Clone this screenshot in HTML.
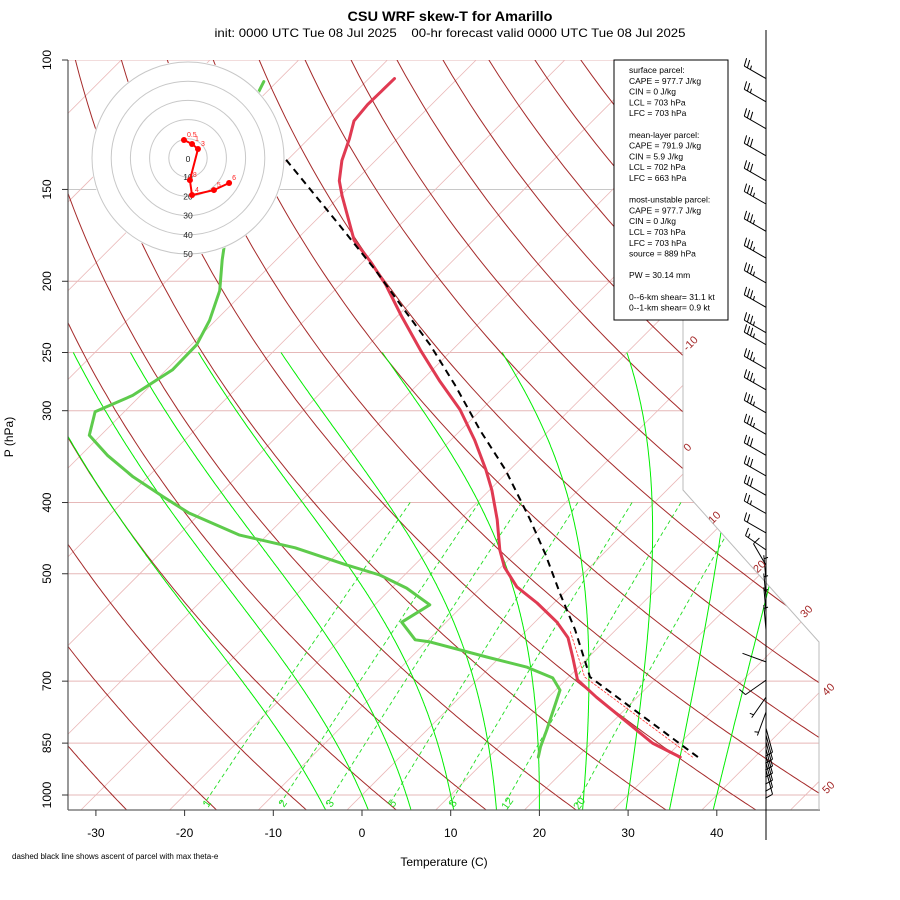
<!DOCTYPE html>
<html><head><meta charset="utf-8"><style>
body{margin:0;background:#fff}
svg{display:block;font-family:"Liberation Sans",sans-serif}
</style></head><body>
<svg id="chart" width="900" height="900" viewBox="0 0 900 900" xmlns="http://www.w3.org/2000/svg">
<defs><clipPath id="plotclip"><polygon points="68,60 683,60 683,490 819,642 819,810 68,810"/></clipPath></defs>
<rect width="900" height="900" fill="#fff"/>
<text x="450" y="21" text-anchor="middle" font-size="14" font-weight="bold" textLength="205" lengthAdjust="spacingAndGlyphs">CSU WRF skew-T for Amarillo</text>
<text x="450" y="37" text-anchor="middle" font-size="12" textLength="471" lengthAdjust="spacingAndGlyphs" style="white-space:pre">init: 0000 UTC Tue 08 Jul 2025    00-hr forecast valid 0000 UTC Tue 08 Jul 2025</text>
<g id="grid" clip-path="url(#plotclip)"></g>
<g id="profiles" clip-path="url(#plotclip)"></g>
<g id="axes"></g>
<g id="barbs"></g>
<g id="hodo"></g>
<g fill="#a52a2a" font-size="11">
<text transform="translate(693,346) rotate(-45)" text-anchor="middle">-10</text>
<text transform="translate(690,450) rotate(-45)" text-anchor="middle">0</text>
<text transform="translate(717,520) rotate(-45)" text-anchor="middle">10</text>
<text transform="translate(762,569) rotate(-45)" text-anchor="middle">20</text>
<text transform="translate(809,614) rotate(-45)" text-anchor="middle">30</text>
<text transform="translate(831,692) rotate(-45)" text-anchor="middle">40</text>
<text transform="translate(831,790) rotate(-45)" text-anchor="middle">50</text>
</g>
<g>
<rect x="614" y="60" width="114" height="260" fill="#fff" stroke="#000" stroke-width="1"/>
<g id="infotext" font-size="8.5" fill="#000"></g>
</g>
<text transform="translate(13,437) rotate(-90)" text-anchor="middle" font-size="12">P (hPa)</text>
<text x="444" y="866" text-anchor="middle" font-size="12">Temperature (C)</text>
<text x="12" y="859" font-size="8">dashed black line shows ascent of parcel with max theta-e</text>
</svg>
<script>
const tempP=[888,850,736,697,649,611,582,548,521,490,464,422,385,361,329,299,273,248,222,202,188,176,153,146,137,128,121,115,106];
const tempT=[31.6,26.9,15.4,11.3,8.2,5.5,2.5,-1.9,-6.0,-9.6,-12.1,-15.8,-19.7,-22.7,-27.3,-32.4,-38.0,-43.6,-49.8,-54.9,-59.2,-63.4,-69.8,-71.8,-73.8,-75.4,-76.9,-77.2,-77.1];
const dewP=[888,860,816,720,693,670,649,619,615,582,551,523,502,486,461,443,413,393,369,345,324,301,286,264,244,226,206,187,146,117,107];
const dewT=[15.6,14.7,13.5,10.5,8.3,4.2,-1.5,-9.6,-11.5,-15.0,-13.8,-18.3,-22.8,-27.8,-35.4,-43.1,-51.4,-56.0,-61.7,-67.0,-71.3,-73.3,-70.9,-69.3,-69.4,-70.7,-72.9,-76.1,-83.7,-89.9,-91.5];
const parcelP=[888,691,596,534,471,422,361,319,277,244,215,193,168,150,136];
const parcelT=[33.6,12.4,5.4,-0.2,-6.4,-12.1,-20.5,-27.8,-35.7,-43.1,-51.0,-57.7,-66.7,-74.1,-80.5];
const barbP=[106,114,124,135,146,157,171,186,201,217,235,244,263,281,302,323,345,368,391,414,440,464,487,510,540,564,596,659,698,736,771,811,829,847,866,885,905,925];
const barbDir=[300,300,300,300,300,300,300,300,300,300,300,300,300,300,300,300,300,300,300,300,300,305,330,355,355,355,355,290,235,215,200,165,165,165,165,165,165,165];
const barbSpd=[25,25,30,30,30,35,35,35,35,35,35,35,35,35,35,35,30,30,30,25,20,15,10,5,5,5,5,2,10,5,5,10,10,10,10,10,10,10];
const hodoU=[-2.1,2.1,5.2,1.0,2.1,13.5,21.4];
const hodoV=[9.4,7.3,4.7,-11.5,-19.3,-16.7,-13.0];
const hodoLbl=["0.5","1","3","8","4","5","6"];
const pTicks=[100,150,200,250,300,400,500,700,850,1000];
const tTicks=[-30,-20,-10,0,10,20,30,40];
const mixRatios=[1,2,3,5,8,12,20];
const info=["surface parcel:","CAPE = 977.7 J/kg","CIN = 0 J/kg","LCL = 703 hPa","LFC = 703 hPa","","mean-layer parcel:","CAPE = 791.9 J/kg","CIN = 5.9 J/kg","LCL = 702 hPa","LFC = 663 hPa","","most-unstable parcel:","CAPE = 977.7 J/kg","CIN = 0 J/kg","LCL = 703 hPa","LFC = 703 hPa","source = 889 hPa","","PW =  30.14 mm","","0--6-km shear= 31.1 kt","0--1-km shear= 0.9 kt"];

const NS="http://www.w3.org/2000/svg";
function yP(p){return 795-319.2*Math.log(1000/p);}
function xT(T,p){return 362+8.87*T+319.2*Math.log(1000/p);}
function mk(parent,tag,attrs){const e=document.createElementNS(NS,tag);for(const k in attrs)e.setAttribute(k,attrs[k]);parent.appendChild(e);return e;}
function pathFrom(pts){return pts.map((q,i)=>(i?'L':'M')+q[0].toFixed(1)+','+q[1].toFixed(1)).join('');}
const grid=document.getElementById('grid');
const prof=document.getElementById('profiles');
const axes=document.getElementById('axes');

for(const p of pTicks){const l=mk(grid,'line',{x1:68,x2:820,y1:yP(p),y2:yP(p),stroke:p==150?'#c8c8c8':'#e6b8b8','stroke-width':1});

}
for(let T=-120;T<=60;T+=10){const l=mk(grid,'line',{x1:xT(T,1060),y1:yP(1060),x2:xT(T,95),y2:yP(95),stroke:'#eab8b8','stroke-width':0.8});

}
for(let th=175;th<=505;th+=10){const pts=[];for(let p=95;p<=1060;p+=5){pts.push([xT(th*Math.pow(p/1000,0.2857)-273.15,p),yP(p)]);}
const e=mk(grid,'path',{d:pathFrom(pts),fill:'none',stroke:'#a52a2a','stroke-width':1});

}
function es(Tc){return 6.112*Math.exp(17.67*Tc/(Tc+243.5));}
function dTdp(TK,p){const Tc=TK-273.15;const e=es(Tc);const rs=0.622*e/(p-e);const Rd=287,cp=1004,Lv=2.5e6;
return (Rd*TK+Lv*rs)/(p*(cp+Lv*Lv*rs*0.622/(Rd*TK*TK)));}
for(let tw=-5;tw<=40;tw+=5){let T=tw+273.15,pts=[];let p=1000;
let Td=T;const down=[];for(let q=1000;q<1050;q+=2){Td+=dTdp(Td,q)*2;down.push([xT(Td-273.15,q+2),yP(q+2)]);}
for(p=1000;p>=250;p-=2){pts.push([xT(T-273.15,p),yP(p)]);T-=dTdp(T,p)*2;}
pts.reverse();const all=pts.concat(down);
const e=mk(grid,'path',{d:pathFrom(all),fill:'none',stroke:'#00ee00','stroke-width':1});

}
function tdFromW(w,p){const e=w*p/(622+w);const l=Math.log(e/6.112);return 243.5*l/(17.67-l);}
for(const w of mixRatios){const pts=[];for(let p=400;p<=1030;p+=10)pts.push([xT(tdFromW(w,p),p),yP(p)]);
const e=mk(grid,'path',{d:pathFrom(pts),fill:'none',stroke:'#22dd22','stroke-width':0.9,'stroke-dasharray':'4,3'});


const lp=1030,lx=xT(tdFromW(w,lp),lp)+6,ly=yP(lp)+1;
const t=mk(grid,'text',{x:lx,y:ly,fill:'#22dd22','font-size':11,'text-anchor':'middle',transform:`rotate(-55 ${lx} ${ly})`});
t.textContent=w;

}

function line(P,T,attrs,name){const pts=P.map((p,i)=>[xT(T[i],p),yP(p)]);const e=mk(prof,'path',Object.assign({d:pathFrom(pts),fill:'none','stroke-linejoin':'round','stroke-linecap':'round'},attrs));

return e;}
line(dewP,dewT,{stroke:'#5ecb4c','stroke-width':3},'dewpoint-line');
line(tempP,tempT,{stroke:'#e03a52','stroke-width':3},'temperature-line');
line(parcelP.slice(0,3),parcelT.slice(0,3).map(t=>t-0.6),{stroke:'#ff3030','stroke-width':0.8,'stroke-dasharray':'2,2'},'virtual-parcel-line');
line(parcelP,parcelT,{stroke:'#000','stroke-width':2,'stroke-dasharray':'7,5','stroke-linecap':'butt'},'parcel-line');

const ax=mk(axes,'line',{x1:68,y1:60,x2:68,y2:810,stroke:'#555','stroke-width':1.2});


const bx=mk(axes,'line',{x1:68,y1:810,x2:820,y2:810,stroke:'#666','stroke-width':1.2});


mk(axes,'polyline',{points:'683,60 683,490 819,642 819,810',fill:'none',stroke:'#bbb','stroke-width':1});
for(const p of pTicks){const y=yP(p);mk(axes,'line',{x1:62,x2:68,y1:y,y2:y,stroke:'#333'});
const t=mk(axes,'text',{transform:`translate(51,${y}) rotate(-90)`,'text-anchor':'middle','font-size':12});t.textContent=p;

}
for(const T of tTicks){const x=362+8.87*T;mk(axes,'line',{x1:x,x2:x,y1:810,y2:816,stroke:'#333'});
const t=mk(axes,'text',{x:x,y:837,'text-anchor':'middle','font-size':12});t.textContent=T;

}

const bg=document.getElementById('barbs');
const st=mk(bg,'line',{x1:766,y1:30,x2:766,y2:840,stroke:'#000','stroke-width':1});


barbP.forEach((p,i)=>{const y=yP(p),d=barbDir[i]*Math.PI/180,L=25;const ux=Math.sin(d),uy=-Math.cos(d);
const tx=766+ux*L,ty=y+uy*L;const px=-uy,py=ux;let s='M766,'+y.toFixed(1)+'L'+tx.toFixed(1)+','+ty.toFixed(1);
let spd=barbSpd[i],k=0;
while(spd>=10){const bx0=tx-ux*k*3.5,by0=ty-uy*k*3.5;s+='M'+bx0.toFixed(1)+','+by0.toFixed(1)+'l'+(px*8+ux*2).toFixed(1)+','+(py*8+uy*2).toFixed(1);spd-=10;k++;}
if(spd>=5){if(k==0)k=1;const bx0=tx-ux*k*3.5,by0=ty-uy*k*3.5;s+='M'+bx0.toFixed(1)+','+by0.toFixed(1)+'l'+(px*4+ux*1).toFixed(1)+','+(py*4+uy*1).toFixed(1);}
const e=mk(bg,'path',{d:s,fill:'none',stroke:'#000','stroke-width':1});

});

const hg=document.getElementById('hodo');const cx=188,cy=158,sc=1.92;
const hc=mk(hg,'circle',{cx:cx,cy:cy,r:97,fill:'#fff',stroke:'none'});


for(let k=1;k<=5;k++){const r=mk(hg,'circle',{cx:cx,cy:cy,r:k*19.2,fill:'none',stroke:'#c8c8c8','stroke-width':1});

}
for(let k=0;k<=5;k++){const t=mk(hg,'text',{x:cx,y:cy+k*19.2+(k?3:4),'text-anchor':'middle','font-size':8.5,fill:'#222'});t.textContent=k*10;

}
const hpts=hodoU.map((u,i)=>[cx+u*sc,cy-hodoV[i]*sc]);
const hl=mk(hg,'path',{d:pathFrom(hpts),fill:'none',stroke:'#f00','stroke-width':2});


hpts.forEach((q,i)=>{const c=mk(hg,'circle',{cx:q[0],cy:q[1],r:3,fill:'#f00'});


const t=mk(hg,'text',{x:q[0]+3,y:q[1]-3,'font-size':7,fill:'#f22'});t.textContent=hodoLbl[i];

});

const it=document.getElementById('infotext');
info.forEach((s,i)=>{if(!s)return;const t=mk(it,'text',{x:629,y:73+i*10.8});t.textContent=s;

});
</script>
</body></html>
